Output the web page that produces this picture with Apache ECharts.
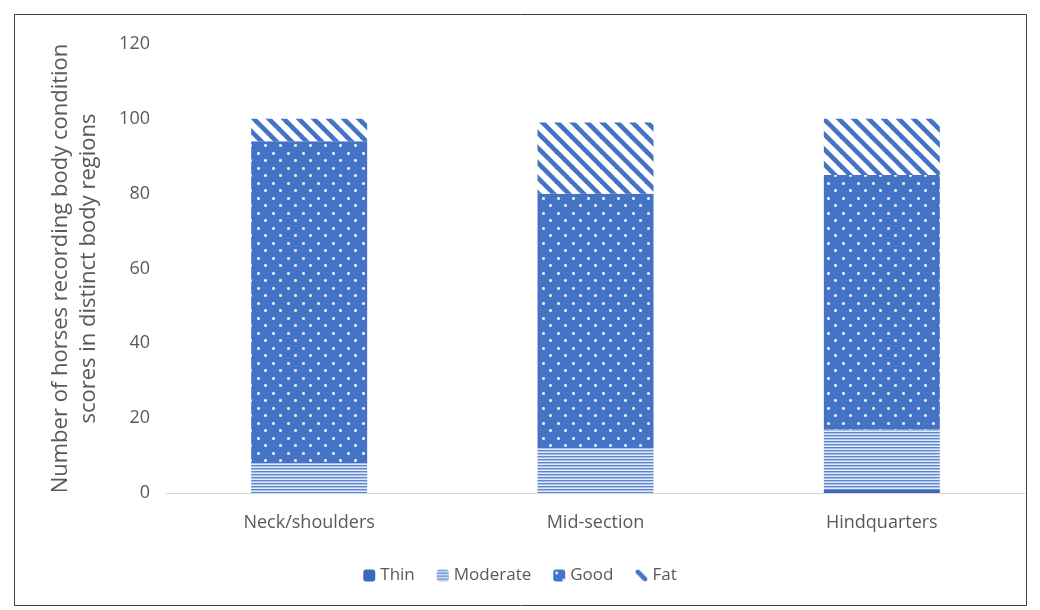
<!DOCTYPE html>
<html>
<head>
<meta charset="utf-8">
<script src="https://cdn.jsdelivr.net/npm/echarts@6/dist/echarts.min.js"></script>
<style>html,body{margin:0;padding:0;background:#fff}#c{width:1040px;height:610px}</style>
</head>
<body>
<div id="c"></div>
<script>
const categories = ['Neck/shoulders', 'Mid-section', 'Hindquarters'];
const thin = [0, 0, 1];
const moderate = [8, 12, 16];
const good = [86, 68, 68];
const fat = [6, 19, 15];
const yTicks = [0, 20, 40, 60, 80, 100, 120];

const BLUE = '#4472c4';
function makeCanvas(w, h, draw) {
  const c = document.createElement('canvas');
  c.width = w; c.height = h;
  draw(c.getContext('2d'));
  return c;
}
const stripesH = makeCanvas(1, 3, g => {
  g.fillStyle = '#e2eaf7'; g.fillRect(0, 0, 1, 3);
  g.fillStyle = '#5d87cd'; g.fillRect(0, 0, 1, 1);
  g.fillStyle = '#a9c0e8'; g.fillRect(0, 1, 1, 1);
});
const dots = makeCanvas(15, 15, g => {
  g.fillStyle = BLUE; g.fillRect(0, 0, 15, 15);
  g.fillStyle = '#a9bfe6';
  g.fillRect(2, 2, 3, 3);
  g.fillRect(9, 9, 3, 3);
  g.fillStyle = '#dbe5f5';
  g.fillRect(3, 2, 1, 3); g.fillRect(2, 3, 3, 1);
  g.fillRect(10, 9, 1, 3); g.fillRect(9, 10, 3, 1);
  g.fillStyle = '#ffffff';
  g.fillRect(3, 3, 1, 1); g.fillRect(10, 10, 1, 1);
});
const diag = makeCanvas(15, 15, g => {
  g.fillStyle = '#fff'; g.fillRect(0, 0, 15, 15);
  g.strokeStyle = BLUE; g.lineWidth = 4.6;
  for (const k of [-15, 0, 15]) {
    g.beginPath(); g.moveTo(k - 2, -2); g.lineTo(k + 17, 17); g.stroke();
  }
});

const chart = echarts.init(document.getElementById('c'), null, {renderer: 'canvas'});
const base = {type: 'bar', stack: 'total', barWidth: 116};
chart.setOption({
  animation: false,
  textStyle: {fontFamily: 'Open Sans'},
  grid: {left: 166, right: 15, top: 44, bottom: 117},
  legend: {
    bottom: 21, left: 'center', itemWidth: 12, itemHeight: 12, itemGap: 22,
    textStyle: {color: '#595959', fontSize: 17, fontFamily: 'Open Sans'},
    data: ['Thin', 'Moderate', 'Good', 'Fat']
  },
  xAxis: {
    type: 'category', data: categories,
    axisLine: {lineStyle: {color: '#d9d9d9', width: 1}},
    axisTick: {show: false},
    axisLabel: {color: '#595959', fontSize: 18, margin: 21}
  },
  yAxis: {
    type: 'value', min: 0, max: 120, interval: 20,
    axisLine: {show: false}, axisTick: {show: false},
    splitLine: {show: false},
    axisLabel: {color: '#595959', fontSize: 18, margin: 16,
      formatter: v => yTicks.includes(v) ? String(v) : ''},
    name: 'Number of horses recording body condition\nscores in distinct body regions',
    nameLocation: 'middle', nameGap: 63, nameRotate: 90,
    nameTextStyle: {color: '#595959', fontSize: 22, lineHeight: 28, fontFamily: 'Open Sans'}
  },
  series: [
    Object.assign({}, base, {name: 'Thin', data: thin, itemStyle: {color: '#3b68bd'}}),
    Object.assign({}, base, {name: 'Moderate', data: moderate, itemStyle: {color: {image: stripesH, repeat: 'repeat'}}}),
    Object.assign({}, base, {name: 'Good', data: good, itemStyle: {color: {image: dots, repeat: 'repeat'}}}),
    Object.assign({}, base, {name: 'Fat', data: fat, itemStyle: {color: {image: diag, repeat: 'repeat'}}})
  ],
  graphic: [{
    type: 'rect', shape: {x: 14.5, y: 14.5, width: 1012, height: 591},
    style: {fill: 'none', stroke: '#3f3f3f', lineWidth: 1}, silent: true
  }]
});
</script>
</body>
</html>
